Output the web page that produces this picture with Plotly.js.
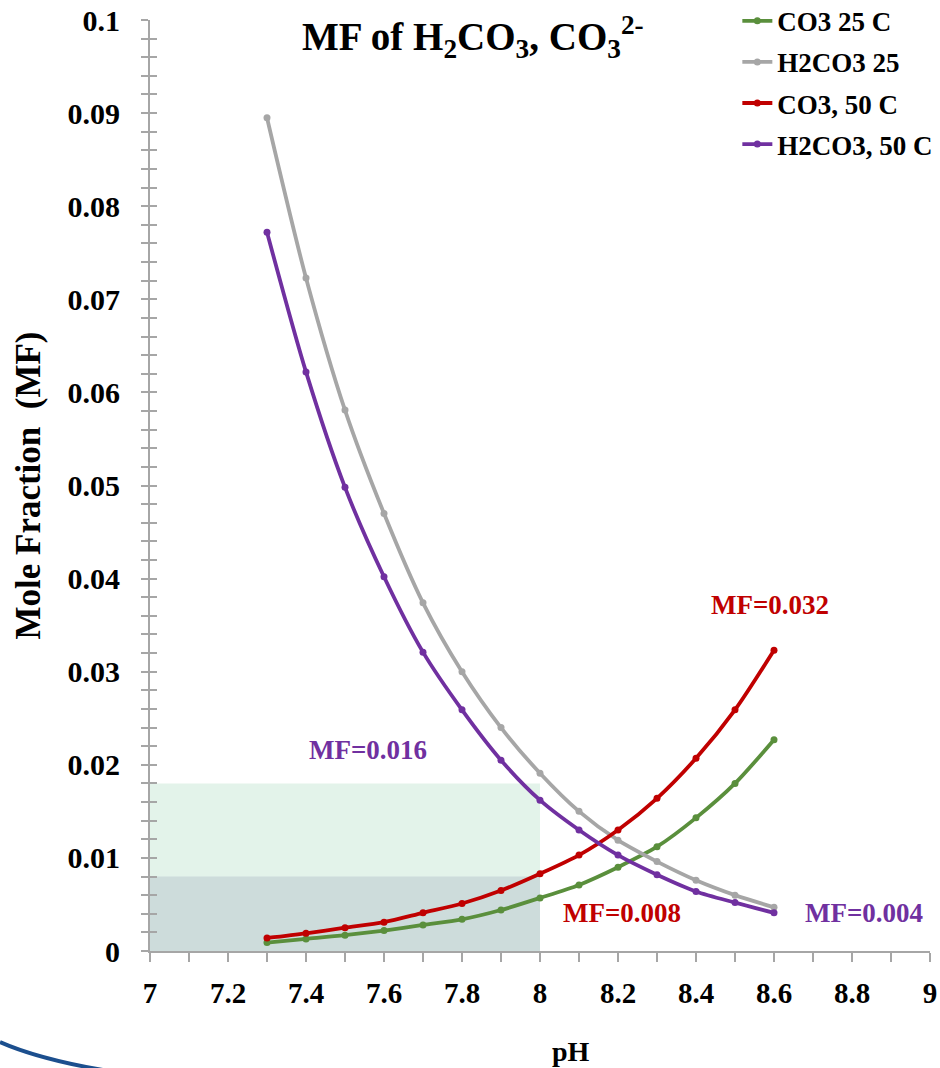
<!DOCTYPE html>
<html>
<head>
<meta charset="utf-8">
<script src="https://cdn.plot.ly/plotly-3.0.1.min.js"></script>
<style>html,body{margin:0;padding:0;background:#fff;}#chart{width:940px;height:1068px;}</style>
</head>
<body>
<div id="chart"></div>
<script>
const pH = [7.3, 7.4, 7.5, 7.6, 7.7, 7.8, 7.9, 8.0, 8.1, 8.2, 8.3, 8.4, 8.5, 8.6];
const co3_25 = [0.0009, 0.0013, 0.0017, 0.0022, 0.0028, 0.0034, 0.0044, 0.0057, 0.0071, 0.0090, 0.0112, 0.0143, 0.0180, 0.0227];
const h2co3_25 = [0.0895, 0.0723, 0.0581, 0.0470, 0.0374, 0.0300, 0.0240, 0.0191, 0.0150, 0.0119, 0.0096, 0.0076, 0.0060, 0.0047];
const co3_50 = [0.0014, 0.0019, 0.0025, 0.0031, 0.0041, 0.0051, 0.0065, 0.0083, 0.0103, 0.0130, 0.0164, 0.0207, 0.0259, 0.0323];
const h2co3_50 = [0.0772, 0.0622, 0.0498, 0.0402, 0.0321, 0.0259, 0.0205, 0.0162, 0.0130, 0.0103, 0.0082, 0.0064, 0.0052, 0.0041];
const seriesNames = ['CO3 25 C', 'H2CO3 25', 'CO3, 50 C', 'H2CO3, 50 C'];
const seriesColors = ['#5a8f3c', '#a6a6a6', '#c00000', '#7030a0'];
const yTickVals = [0, 0.01, 0.02, 0.03, 0.04, 0.05, 0.06, 0.07, 0.08, 0.09, 0.1];
const xTickVals = [7, 7.2, 7.4, 7.6, 7.8, 8, 8.2, 8.4, 8.6, 8.8, 9];
const mfLabels = ['MF=0.032', 'MF=0.016', 'MF=0.008', 'MF=0.004'];
const mfX = [8.59, 7.56, 8.21, 8.83];
const mfY = [0.0372, 0.0216, 0.0041, 0.0041];
const mfColors = ['#c00000', '#7030a0', '#c00000', '#7030a0'];
const bandTop = [0.018, 0.008];
const bandX = [7, 8];

const FONT = 'Liberation Serif, Times New Roman, serif';
const seriesData = [co3_25, h2co3_25, co3_50, h2co3_50];

const traces = seriesData.map((ys, i) => ({
  x: pH, y: ys, name: seriesNames[i], type: 'scatter', mode: 'lines+markers',
  legendgroup: 'g' + i,
  line: {color: seriesColors[i], width: 3.8, shape: 'spline', smoothing: 0.8},
  marker: {color: seriesColors[i], size: 7, symbol: 'circle'}
}));

// secondary overlay axis only for inward tick marks (crossing ticks look)
traces.push({x: [7], y: [0], yaxis: 'y2', type: 'scatter', mode: 'markers', marker: {opacity: 0}, showlegend: false, hoverinfo: 'skip'});

const tickStyle = {tickcolor: '#a6a6a6', tickwidth: 2};

const layout = {
  width: 940, height: 1068,
  paper_bgcolor: '#ffffff', plot_bgcolor: 'rgba(0,0,0,0)',
  margin: {l: 150, r: 10, t: 20, b: 117, autoexpand: false},
  title: {
    text: 'MF of H<sub>2</sub>CO<sub>3</sub>, CO<sub>3</sub><sup>2-</sup>',
    font: {family: FONT, size: 39, color: '#000', weight: 'bold'},
    x: 0.503, xanchor: 'center', y: 0.966, yanchor: 'middle'
  },
  xaxis: {
    range: [7, 9], tickvals: xTickVals, ticks: 'outside', ticklen: 9, ...tickStyle,
    minor: {dtick: 0.1, tick0: 7, ticks: 'outside', ticklen: 9, tickcolor: '#a6a6a6', tickwidth: 2},
    showline: true, linecolor: '#a6a6a6', linewidth: 2, showgrid: false, zeroline: false,
    tickfont: {family: FONT, size: 29, color: '#000', weight: 'bold'},
    ticklabelstandoff: 6
  },
  yaxis: {
    range: [0, 0.1], tickvals: yTickVals, ticks: 'outside', ticklen: 7, ...tickStyle,
    minor: {dtick: 0.002, tick0: 0, ticks: 'outside', ticklen: 7, tickcolor: '#a6a6a6', tickwidth: 2},
    showline: true, linecolor: '#a6a6a6', linewidth: 2, showgrid: false, zeroline: false,
    tickfont: {family: FONT, size: 30, color: '#000', weight: 'bold'},
    ticklabelstandoff: 15,
    title: {text: 'Mole Fraction&nbsp; (MF)', font: {family: FONT, size: 35, color: '#000', weight: 'bold'}, standoff: 16}
  },
  yaxis2: {
    overlaying: 'y', side: 'left', range: [0, 0.1], dtick: 0.01, ticks: 'inside', ticklen: 7, ...tickStyle,
    minor: {dtick: 0.002, tick0: 0, ticks: 'inside', ticklen: 7, tickcolor: '#a6a6a6', tickwidth: 2},
    showticklabels: false, showgrid: false, zeroline: false, showline: false
  },
  legend: {
    x: 0.753, xanchor: 'left', y: 1.025, yanchor: 'top', bgcolor: 'rgba(0,0,0,0)',
    font: {family: FONT, size: 27, color: '#000', weight: 'bold'}, tracegroupgap: 3
  },
  shapes: [
    {type: 'rect', xref: 'x', yref: 'y', x0: bandX[0], x1: bandX[1], y0: 0, y1: bandTop[0], fillcolor: '#e3f3ea', line: {width: 0}, layer: 'below'},
    {type: 'rect', xref: 'x', yref: 'y', x0: bandX[0], x1: bandX[1], y0: 0, y1: bandTop[1], fillcolor: '#cddcdb', line: {width: 0}, layer: 'below'},
    {type: 'path', xref: 'paper', yref: 'paper', path: 'M-0.1923,-0.0977 Q-0.1400,-0.1171 -0.0450,-0.1300', line: {color: '#1c4f8e', width: 4}}
  ],
  annotations: mfLabels.map((t, i) => ({
    text: t, x: mfX[i], y: mfY[i], xref: 'x', yref: 'y', showarrow: false,
    font: {family: FONT, size: 27, color: mfColors[i], weight: 'bold'}
  })).concat([{
    text: 'pH', xref: 'paper', yref: 'paper', x: (571 - 150) / 780, y: (951 - 1051) / 931,
    xanchor: 'center', yanchor: 'middle', showarrow: false,
    font: {family: FONT, size: 28, color: '#000', weight: 'bold'}
  }])
};

Plotly.newPlot('chart', traces, layout, {displayModeBar: false, staticPlot: true});
</script>
</body>
</html>
